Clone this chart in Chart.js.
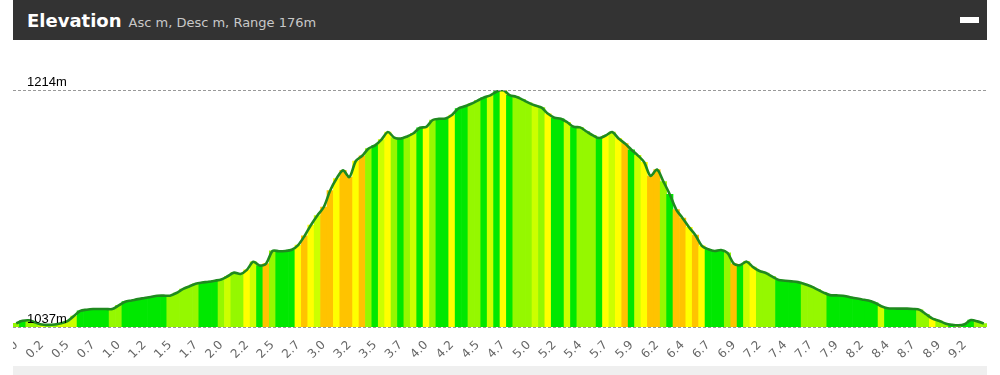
<!DOCTYPE html>
<html><head><meta charset="utf-8">
<script src="https://cdn.jsdelivr.net/npm/chart.js@4.4.1/dist/chart.umd.min.js"></script>
<style>
body{margin:0;background:#fff;width:1000px;height:375px;overflow:hidden;position:relative;font-family:"DejaVu Sans",sans-serif;}
#hdr{position:absolute;left:13px;top:0;width:974px;height:40px;background:#333;}
#title{position:absolute;left:14px;top:10px;color:#fff;font-weight:bold;font-size:18px;white-space:nowrap;}
#sub{font-weight:normal;font-size:13px;color:#c8c8c8;margin-left:7px;}
#min{position:absolute;left:947px;top:17px;width:19px;height:6px;background:#fff;}
#wrap{position:absolute;left:13px;top:40px;width:974px;height:325px;overflow:hidden;}
#inner{position:absolute;left:-30px;top:0;width:1034px;height:325px;}
#foot{position:absolute;left:13px;top:366px;width:974px;height:9px;background:#efefef;}
</style></head>
<body>
<div id="hdr"><div id="title">Elevation<span id="sub">Asc m, Desc m, Range 176m</span></div><div id="min"></div></div>
<div id="wrap"><div id="inner"><canvas id="c"></canvas></div></div>
<div id="foot"></div>
<script>
const tickLabels = ['0.0','0.2','0.5','0.7','1.0','1.2','1.5','1.7','2.0','2.2','2.5','2.7','3.0','3.2','3.5','3.7','4.0','4.2','4.5','4.7','5.0','5.2','5.4','5.7','5.9','6.2','6.4','6.7','6.9','7.2','7.4','7.7','7.9','8.2','8.4','8.7','8.9','9.2'];
const elevations = [
1039.7,1041.6,1042.0,1040.4,1038.8,1038.6,1038.9,1039.8,1041.3,1045.2,
1049.0,1049.9,1050.4,1050.4,1050.4,1050.4,1053.1,1055.9,1056.8,1057.8,
1058.6,1059.4,1060.3,1060.4,1060.4,1062.4,1065.3,1067.3,1069.3,1070.2,
1070.8,1071.6,1072.5,1074.9,1077.6,1076.6,1079.7,1085.7,1082.9,1084.4,
1093.8,1093.6,1093.8,1094.7,1098.2,1105.0,1113.2,1120.3,1126.6,1138.9,
1147.9,1154.0,1149.0,1161.0,1164.9,1170.3,1172.6,1177.0,1182.6,1178.5,
1177.7,1179.3,1181.7,1185.8,1186.5,1191.6,1192.5,1192.8,1195.3,1200.2,
1201.8,1203.7,1206.1,1208.4,1210.0,1212.9,1214.0,1210.1,1209.0,1206.8,
1204.4,1202.4,1200.8,1196.2,1193.3,1192.5,1189.9,1186.5,1186.1,1183.0,
1180.1,1178.1,1180.0,1182.6,1177.8,1174.0,1169.4,1165.2,1160.0,1149.8,
1154.6,1145.6,1136.0,1124.7,1118.3,1111.5,1105.6,1097.6,1095.1,1093.8,
1094.5,1092.3,1084.2,1083.3,1085.8,1081.7,1078.8,1077.3,1074.6,1072.1,
1071.6,1071.1,1070.5,1069.1,1067.4,1065.1,1062.7,1060.8,1060.6,1060.4,
1059.4,1058.4,1057.6,1056.8,1055.1,1052.5,1051.0,1050.8,1050.7,1050.7,
1050.5,1049.8,1046.5,1043.3,1041.7,1039.7,1038.7,1038.2,1039.0,1042.2,
1041.2,1039.6];
const gradeClass = [
1,0,1,1,2,1,1,2,2,2,
0,0,0,0,0,1,1,0,0,0,
0,0,0,0,1,1,1,1,1,0,
0,0,1,2,1,1,3,2,0,4,
1,0,0,0,3,4,3,2,4,4,
3,4,4,3,4,1,0,2,3,1,
0,1,2,0,3,1,0,0,3,0,
0,1,1,0,2,0,3,0,1,1,
1,2,1,3,0,0,2,0,1,1,
1,0,3,2,3,4,0,2,3,4,
4,1,0,4,4,3,4,3,0,0,
0,1,4,0,2,3,1,1,1,0,
0,0,0,1,1,1,1,0,0,0,
0,0,0,0,0,2,0,0,0,0,
0,1,1,3,1,1,0,1,0,0,
1,1];
const yTicks = [1037, 1214];
const gradeColors = ['#00e800','#95f800','#ccff00','#ffff00','#ffc300'];
const perTick = 4;
const labels = elevations.map((_, i) => i % perTick === 0 ? (tickLabels[i / perTick] || '') : '');

new Chart(document.getElementById('c'), {
  type: 'bar',
  data: {
    labels: labels,
    datasets: [
      { type: 'line', data: elevations, borderColor: '#1f8a1f', borderWidth: 2.6, pointRadius: 0, tension: 0.3, fill: false, order: 0 },
      { type: 'bar', data: elevations, backgroundColor: gradeClass.map(c => gradeColors[c]), barPercentage: 1, categoryPercentage: 1, borderWidth: 0, order: 1 }
    ]
  },
  options: {
    animation: false, responsive: true, maintainAspectRatio: false,
    layout: { padding: { left: 30, right: 30, top: 50, bottom: 0 } },
    plugins: { legend: { display: false }, tooltip: { enabled: false } },
    scales: {
      x: {
        type: 'category', offset: true,
        grid: { display: false }, border: { display: false },
        ticks: { autoSkip: false, maxRotation: 45, minRotation: 45, padding: 3, color: '#666',
                 font: { family: 'DejaVu Sans', size: 12 } },
        afterFit(s) { s.height = 38; s.paddingLeft = 0; s.paddingRight = 0; }
      },
      y: {
        min: 1037, max: 1214,
        afterBuildTicks(s) { s.ticks = yTicks.map(v => ({ value: v })); },
        afterFit(s) { s.width = 0; s.paddingTop = 0; s.paddingBottom = 0; },
        grid: { color: '#999', drawTicks: false, z: 1, lineWidth: 1 },
        border: { display: false, dash: [3, 2] },
        ticks: { mirror: true, padding: 14, labelOffset: -8, z: 1, color: '#000',
                 font: { family: 'Liberation Sans', size: 13 }, callback: v => v + 'm' }
      }
    }
  }
});
</script>
</body></html>
